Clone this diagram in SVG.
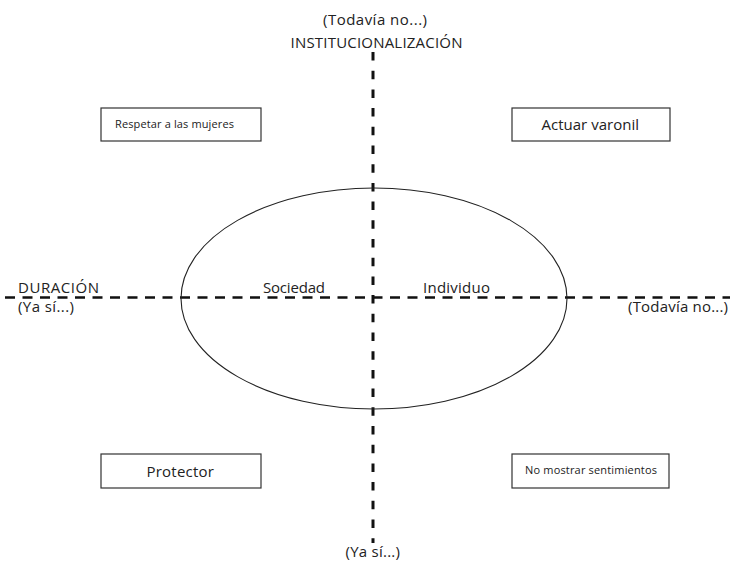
<svg xmlns="http://www.w3.org/2000/svg" width="730" height="565" viewBox="0 0 730 565">
<style>
text{font-family:"Open Sans","Noto Sans","Liberation Sans",sans-serif;fill:#222;}
.l{font-size:15px;}
.s{font-size:11px;}
.box{fill:#fff;stroke:#333;stroke-width:1.2;}
.axis{stroke:#111;fill:none;}
</style>
<rect width="730" height="565" fill="#fff"/>
<g id="connectors">
<line class="axis" x1="373" y1="52" x2="373" y2="543" stroke-width="3" stroke-dasharray="8.5,10.2"/>
<line class="axis" x1="0" y1="297.5" x2="730" y2="297.5" stroke-width="2.5" stroke-dasharray="10,7.5" stroke-dashoffset="12.5"/>
</g>
<g id="ellipse">
<ellipse cx="374" cy="298.5" rx="193" ry="110.5" fill="none" stroke="#222" stroke-width="1.1"/>
<text class="l" x="294" y="292.5" text-anchor="middle" textLength="62">Sociedad</text>
<text class="l" x="456.5" y="292.5" text-anchor="middle" textLength="67">Individuo</text>
</g>
<g id="top-label">
<text class="l" x="375" y="25" text-anchor="middle" textLength="104">(Todavía no...)</text>
<text class="l" x="376.5" y="48" text-anchor="middle" textLength="172">INSTITUCIONALIZACIÓN</text>
</g>
<g id="left-label">
<text class="l" x="18" y="292.5" textLength="81">DURACIÓN</text>
<text class="l" x="18" y="312" textLength="56">(Ya sí...)</text>
</g>
<g id="right-label">
<text class="l" x="628" y="312" textLength="100">(Todavía no...)</text>
</g>
<g id="bottom-label">
<text class="l" x="345.5" y="557" textLength="54.5">(Ya sí...)</text>
</g>
<g id="respetar">
<rect class="box" x="101" y="108" width="160" height="33"/>
<text class="s" x="115" y="128" textLength="119">Respetar a las mujeres</text>
</g>
<g id="actuar">
<rect class="box" x="512" y="108" width="158" height="33"/>
<text class="l" x="541.5" y="129.5" textLength="97.5">Actuar varonil</text>
</g>
<g id="protector">
<rect class="box" x="101" y="454" width="160" height="34"/>
<text class="l" x="146.5" y="477" textLength="67.5">Protector</text>
</g>
<g id="no-mostrar">
<rect class="box" x="512" y="454" width="157" height="34"/>
<text class="s" x="525" y="474" textLength="132">No mostrar sentimientos</text>
</g>
</svg>
